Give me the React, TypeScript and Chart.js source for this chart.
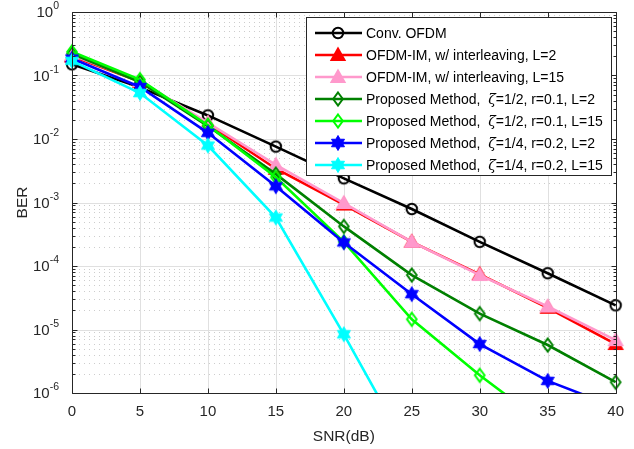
import React, { useEffect, useRef } from 'react';
import { Chart, registerables } from 'chart.js';

Chart.register(...registerables);

// ---------- data ----------
const snr = [0, 5, 10, 15, 20, 25, 30, 35, 40];
const xTickValues = [0, 5, 10, 15, 20, 25, 30, 35, 40];
const yDecades = [0, -1, -2, -3, -4, -5, -6];

const convOFDM = [0.15, 0.065, 0.0235, 0.0076, 0.0024, 7.9e-4, 2.4e-4, 7.7e-5, 2.4e-5];
const imL2 = [0.2, 0.08, 0.0175, 0.0034, 9.3e-4, 2.4e-4, 7.4e-5, 2.2e-5, 5.9e-6];
const imL15 = [0.21, 0.082, 0.018, 0.0039, 9.8e-4, 2.4e-4, 7.2e-5, 2.3e-5, 6.8e-6];
const propHalfL2 = [0.22, 0.079, 0.016, 0.0028, 4.2e-4, 7.2e-5, 1.78e-5, 5.7e-6, 1.48e-6];
const propHalfL15 = [0.236, 0.086, 0.0165, 0.0025, 2.4e-4, 1.45e-5, 1.9e-6, 3e-7, 5e-8];
const propQuarterL2 = [0.185, 0.066, 0.0125, 0.0018, 2.35e-4, 3.6e-5, 5.9e-6, 1.55e-6, 6e-7];
const propQuarterL15 = [0.17, 0.053, 0.0079, 5.8e-4, 8.4e-6, 1e-7, null, null, null];

const legendLabels = [
  ['Conv. OFDM'],
  ['OFDM-IM, w/ interleaving, L=2'],
  ['OFDM-IM, w/ interleaving, L=15'],
  ['Proposed Method,  ', 'ζ', '=1/2, r=0.1, L=2'],
  ['Proposed Method,  ', 'ζ', '=1/2, r=0.1, L=15'],
  ['Proposed Method,  ', 'ζ', '=1/4, r=0.2, L=2'],
  ['Proposed Method,  ', 'ζ', '=1/4, r=0.2, L=15'],
];

const seriesValues = [convOFDM, imL2, imL15, propHalfL2, propHalfL15, propQuarterL2, propQuarterL15];
const seriesColors = ['#000000', '#ff0000', '#ff99cc', '#008000', '#00ff00', '#0000ff', '#00ffff'];
const seriesMarkers = ['circle', 'triangle', 'triangle', 'diamond', 'diamond', 'hexagram', 'hexagram'];

const FONT = '"Liberation Sans", Arial, Helvetica, sans-serif';
const AXIS_COLOR = '#262626';

// ---------- markers ----------
function makeMarker(kind: string, color: string): HTMLCanvasElement {
  const c = document.createElement('canvas');
  const size = 18;
  c.width = size;
  c.height = size;
  const ctx = c.getContext('2d') as CanvasRenderingContext2D;
  const cx = size / 2;
  const cy = size / 2;
  ctx.strokeStyle = color;
  ctx.fillStyle = color;
  ctx.lineWidth = 2;
  ctx.lineJoin = 'miter';
  ctx.beginPath();
  if (kind === 'circle') {
    ctx.arc(cx, cy, 5.2, 0, Math.PI * 2);
    ctx.stroke();
  } else if (kind === 'triangle') {
    ctx.moveTo(cx, cy - 6.5);
    ctx.lineTo(cx + 6.5, cy + 5);
    ctx.lineTo(cx - 6.5, cy + 5);
    ctx.closePath();
    ctx.fill();
    ctx.stroke();
  } else if (kind === 'diamond') {
    ctx.moveTo(cx, cy - 6.5);
    ctx.lineTo(cx + 4.8, cy);
    ctx.lineTo(cx, cy + 6.5);
    ctx.lineTo(cx - 4.8, cy);
    ctx.closePath();
    ctx.stroke();
  } else if (kind === 'hexagram') {
    const R = 7.5;
    const r = R / Math.sqrt(3);
    for (let k = 0; k < 12; k++) {
      const a = -Math.PI / 2 + (k * Math.PI) / 6;
      const rad = k % 2 === 0 ? R : r;
      const px = cx + rad * Math.cos(a);
      const py = cy + rad * Math.sin(a);
      if (k === 0) ctx.moveTo(px, py);
      else ctx.lineTo(px, py);
    }
    ctx.closePath();
    ctx.fill();
    ctx.lineWidth = 1;
    ctx.stroke();
  }
  return c;
}

// ---------- plugins ----------
const gridPlugin = {
  id: 'matlabGrid',
  beforeDatasetsDraw(chart: any) {
    const { ctx, chartArea } = chart;
    const xs = chart.scales.x;
    const ys = chart.scales.y;
    const { left, right, top, bottom } = chartArea;
    ctx.save();
    ctx.strokeStyle = '#cdcdcd';
    ctx.lineWidth = 1;
    ctx.setLineDash([1, 4]);
    for (let d = -6; d < 0; d++) {
      for (let m = 2; m <= 9; m++) {
        const y = Math.round(ys.getPixelForValue(m * Math.pow(10, d))) + 0.5;
        ctx.beginPath();
        ctx.moveTo(left + 2, y);
        ctx.lineTo(right, y);
        ctx.stroke();
      }
    }
    ctx.setLineDash([]);
    ctx.strokeStyle = '#e0e0e0';
    for (const t of xTickValues) {
      const x = Math.round(xs.getPixelForValue(t)) + 0.5;
      ctx.beginPath();
      ctx.moveTo(x, top);
      ctx.lineTo(x, bottom);
      ctx.stroke();
    }
    for (const d of yDecades) {
      const y = Math.round(ys.getPixelForValue(Math.pow(10, d))) + 0.5;
      ctx.beginPath();
      ctx.moveTo(left, y);
      ctx.lineTo(right, y);
      ctx.stroke();
    }
    ctx.restore();
  },
};

function makeFramePlugin(markers: HTMLCanvasElement[]) {
  return {
    id: 'matlabFrame',
    afterDraw(chart: any) {
      const { ctx, chartArea } = chart;
      const xs = chart.scales.x;
      const ys = chart.scales.y;
      const left = Math.round(chartArea.left) + 0.5;
      const right = Math.round(chartArea.right) + 0.5;
      const top = Math.round(chartArea.top) + 0.5;
      const bottom = Math.round(chartArea.bottom) + 0.5;
      ctx.save();
      ctx.strokeStyle = AXIS_COLOR;
      ctx.lineWidth = 1;
      ctx.beginPath();
      ctx.rect(left, top, right - left, bottom - top);
      ctx.stroke();
      ctx.beginPath();
      for (const t of xTickValues) {
        const x = Math.round(xs.getPixelForValue(t)) + 0.5;
        ctx.moveTo(x, bottom);
        ctx.lineTo(x, bottom - 5);
        ctx.moveTo(x, top);
        ctx.lineTo(x, top + 5);
      }
      for (let d = -6; d <= 0; d++) {
        const y = Math.round(ys.getPixelForValue(Math.pow(10, d))) + 0.5;
        ctx.moveTo(left, y);
        ctx.lineTo(left + 5, y);
        ctx.moveTo(right, y);
        ctx.lineTo(right - 5, y);
        if (d < 0) {
          for (let m = 2; m <= 9; m++) {
            const ym = Math.round(ys.getPixelForValue(m * Math.pow(10, d))) + 0.5;
            ctx.moveTo(left, ym);
            ctx.lineTo(left + 3, ym);
            ctx.moveTo(right, ym);
            ctx.lineTo(right - 3, ym);
          }
        }
      }
      ctx.stroke();

      // y tick labels 10^n
      ctx.fillStyle = AXIS_COLOR;
      for (const d of yDecades) {
        const y = ys.getPixelForValue(Math.pow(10, d));
        const exp = String(d);
        ctx.font = `10.5px ${FONT}`;
        const ew = ctx.measureText(exp).width;
        ctx.font = `15px ${FONT}`;
        const bw = ctx.measureText('10').width;
        const xr = chartArea.left - 13;
        ctx.textAlign = 'left';
        ctx.textBaseline = 'middle';
        ctx.fillText('10', xr - ew - bw, y + 1);
        ctx.font = `10.5px ${FONT}`;
        ctx.textBaseline = 'alphabetic';
        ctx.fillText(exp, xr - ew, y - 3);
      }

      // legend
      const bx = 306.5, by = 17.5, bw2 = 305, bh = 158;
      ctx.fillStyle = '#ffffff';
      ctx.fillRect(bx, by, bw2, bh);
      ctx.strokeStyle = AXIS_COLOR;
      ctx.lineWidth = 1;
      ctx.strokeRect(bx, by, bw2, bh);
      for (let i = 0; i < legendLabels.length; i++) {
        const yy = 33 + i * 22;
        ctx.strokeStyle = seriesColors[i];
        ctx.lineWidth = 2.5;
        ctx.beginPath();
        ctx.moveTo(315, yy);
        ctx.lineTo(362, yy);
        ctx.stroke();
        const mk = markers[i];
        if (mk) ctx.drawImage(mk, 338 - mk.width / 2, yy - mk.height / 2);
        let tx = 366;
        ctx.fillStyle = '#000000';
        ctx.textAlign = 'left';
        ctx.textBaseline = 'middle';
        const parts = legendLabels[i];
        for (let p = 0; p < parts.length; p++) {
          ctx.font = parts[p] === 'ζ' ? `italic 14px "DejaVu Serif", serif` : `14px ${FONT}`;
          ctx.fillText(parts[p], tx, yy + 1);
          tx += ctx.measureText(parts[p]).width;
        }
      }
      ctx.restore();
    },
  };
}

export default function App() {
  const canvasRef = useRef<HTMLCanvasElement | null>(null);

  useEffect(() => {
    if (!canvasRef.current) return;
    const markers = seriesMarkers.map((m, i) => makeMarker(m, seriesColors[i]));
    const datasets = seriesValues.map((vals, i) => ({
      label: legendLabels[i].join(''),
      data: snr.map((x, j) => ({ x, y: vals[j] })),
      borderColor: seriesColors[i],
      backgroundColor: seriesColors[i],
      borderWidth: 2.6,
      pointStyle: markers[i],
      pointRadius: 6,
      pointHoverRadius: 6,
      fill: false,
      tension: 0,
      spanGaps: false,
      order: seriesValues.length - i,
      clip: { left: 14, right: 14, top: 14, bottom: 0 },
    }));

    const chart = new Chart(canvasRef.current, {
      type: 'line',
      data: { datasets: datasets as any },
      options: {
        animation: false,
        responsive: false,
        devicePixelRatio: 1,
        layout: { padding: { left: 0, right: 18, top: 12, bottom: 0 } },
        plugins: {
          legend: { display: false },
          tooltip: { enabled: false },
        },
        scales: {
          x: {
            type: 'linear',
            min: 0,
            max: 40,
            grid: { display: false, drawTicks: false },
            border: { display: false },
            ticks: {
              stepSize: 5,
              padding: 10,
              color: AXIS_COLOR,
              font: { family: FONT, size: 15 },
            },
            title: {
              display: true,
              text: 'SNR(dB)',
              color: AXIS_COLOR,
              font: { family: FONT, size: 15.5 },
              padding: { top: 0, bottom: 3 },
            },
            afterFit(scale: any) {
              scale.height = 56;
            },
          },
          y: {
            type: 'logarithmic',
            min: 1e-6,
            max: 1,
            grid: { display: false, drawTicks: false },
            border: { display: false },
            ticks: { display: false },
            title: {
              display: true,
              text: 'BER',
              color: AXIS_COLOR,
              font: { family: FONT, size: 15.5 },
              padding: { top: 13, bottom: 0 },
            },
            afterFit(scale: any) {
              scale.width = 72;
            },
          },
        },
      },
      plugins: [gridPlugin, makeFramePlugin(markers)],
    });
    return () => chart.destroy();
  }, []);

  return (
    <div style={{ position: 'fixed', left: 0, top: 0, width: 634, height: 449, background: '#fff' }}>
      <canvas ref={canvasRef} width={634} height={449} />
    </div>
  );
}
